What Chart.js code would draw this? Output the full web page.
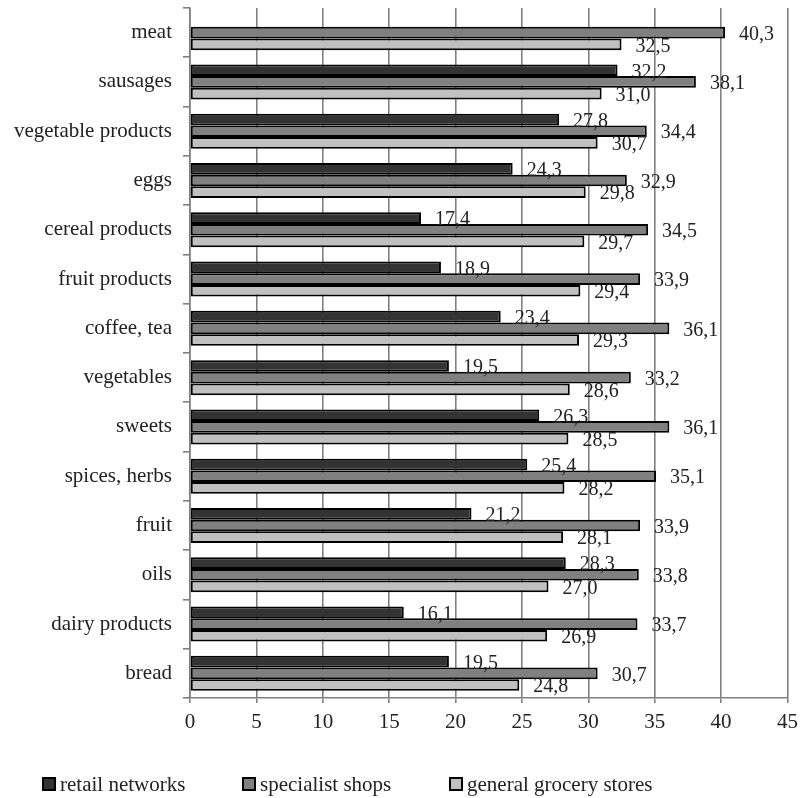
<!DOCTYPE html>
<html>
<head>
<meta charset="utf-8">
<script src="https://cdn.jsdelivr.net/npm/chart.js@4/dist/chart.umd.min.js"></script>
<style>
html,body{margin:0;padding:0;background:#fff;}
#wrap{width:805px;height:798px;position:relative;}
</style>
</head>
<body>
<div id="wrap"><canvas id="c"></canvas></div>
<script>
const categories = ["meat","sausages","vegetable products","eggs","cereal products","fruit products","coffee, tea","vegetables","sweets","spices, herbs","fruit","oils","dairy products","bread"];
const seriesNames = ["retail networks","specialist shops","general grocery stores"];
const retailNetworks = [null,32.2,27.8,24.3,17.4,18.9,23.4,19.5,26.3,25.4,21.2,28.3,16.1,19.5];
const specialistShops = [40.3,38.1,34.4,32.9,34.5,33.9,36.1,33.2,36.1,35.1,33.9,33.8,33.7,30.7];
const generalGrocery = [32.5,31.0,30.7,29.8,29.7,29.4,29.3,28.6,28.5,28.2,28.1,27.0,26.9,24.8];
const xTicks = [0,5,10,15,20,25,30,35,40,45];

const colors = ["#333333","#808080","#c0c0c0"];
const FONT = "'Liberation Serif','DejaVu Serif',serif";
const TEXT = "#222222";
const GRID = "#808080";

const valueLabels = {
  id: 'valueLabels',
  afterDatasetsDraw(chart) {
    const ctx = chart.ctx;
    ctx.save();
    ctx.font = "20px " + FONT;
    ctx.fillStyle = TEXT;
    ctx.textAlign = 'left';
    ctx.textBaseline = 'middle';
    chart.data.datasets.forEach((ds, di) => {
      const meta = chart.getDatasetMeta(di);
      meta.data.forEach((el, i) => {
        const v = ds.data[i];
        if (v === null || v === undefined) return;
        ctx.fillText(v.toFixed(1).replace('.', ','), el.x + 14, el.y + 2);
      });
    });
    ctx.restore();
  }
};

const legendPositions = [43, 243, 450];
const customLegend = {
  id: 'customLegend',
  afterDraw(chart) {
    const ctx = chart.ctx;
    ctx.save();
    const y = 784;
    ctx.font = "21px " + FONT;
    ctx.textBaseline = 'middle';
    ctx.textAlign = 'left';
    chart.data.datasets.forEach((ds, i) => {
      const x = legendPositions[i];
      ctx.fillStyle = ds.backgroundColor;
      ctx.fillRect(x, y - 6, 12, 12);
      ctx.strokeStyle = '#000';
      ctx.lineWidth = 2;
      ctx.strokeRect(x, y - 6, 12, 12);
      ctx.fillStyle = TEXT;
      ctx.fillText(ds.label, x + 17, y + 1);
    });
    ctx.restore();
  }
};

const data = {
  labels: categories,
  datasets: [
    {label: seriesNames[0], data: retailNetworks, backgroundColor: colors[0]},
    {label: seriesNames[1], data: specialistShops, backgroundColor: colors[1]},
    {label: seriesNames[2], data: generalGrocery, backgroundColor: colors[2]}
  ].map(d => Object.assign(d, {borderColor: '#000', borderWidth: 2, borderSkipped: false, categoryPercentage: 0.71, barPercentage: 1.0}))
};

new Chart(document.getElementById('c'), {
  type: 'bar',
  data: data,
  plugins: [valueLabels, customLegend],
  options: {
    indexAxis: 'y',
    responsive: true,
    maintainAspectRatio: false,
    animation: false,
    layout: {padding: {top: 8, right: 15, bottom: 0, left: 0}},
    plugins: {
      legend: {display: false},
      tooltip: {enabled: false}
    },
    scales: {
      x: {
        min: 0, max: 45,
        afterBuildTicks(scale) { scale.ticks = xTicks.map(v => ({value: v})); },
        afterFit(scale) { scale.height = 100; },
        ticks: {font: {family: FONT, size: 21}, color: TEXT, padding: 7, maxRotation: 0},
        grid: {color: GRID, lineWidth: 1.6, tickLength: 5, drawOnChartArea: true, drawTicks: true},
        border: {display: true, color: GRID, width: 1.6}
      },
      y: {
        afterFit(scale) { scale.width = 190; scale.paddingTop = 0; scale.paddingBottom = 0; },
        ticks: {font: {family: FONT, size: 21}, color: TEXT, padding: 11},
        grid: {color: GRID, lineWidth: 1.6, tickLength: 7, drawOnChartArea: false, drawTicks: true, offset: true},
        border: {display: true, color: GRID, width: 1.6}
      }
    }
  }
});
</script>
</body>
</html>
